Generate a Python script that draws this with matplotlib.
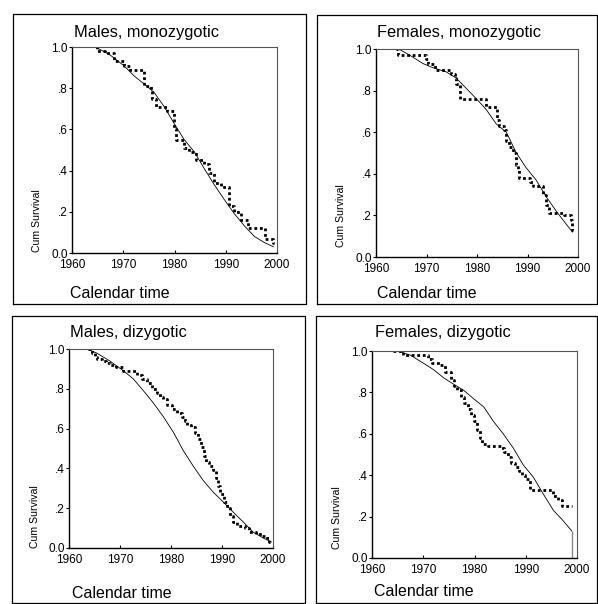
import numpy as np
import matplotlib
matplotlib.use("Agg")
import matplotlib.pyplot as plt
from matplotlib.lines import Line2D

plt.rcParams['font.family'] = ['Liberation Sans', 'DejaVu Sans']

W, H = 598, 604

titles = ["Males, monozygotic", "Females, monozygotic", "Males, dizygotic", "Females, dizygotic"]
x_ticks = [1960, 1970, 1980, 1990, 2000]
x_tick_labels = ["1960", "1970", "1980", "1990", "2000"]
y_ticks = [0.0, 0.2, 0.4, 0.6, 0.8, 1.0]
y_tick_labels = ["0.0", ".2", ".4", ".6", ".8", "1.0"]

# smooth (model) curves
m_mz_fit_t = [1964.0, 1964.6, 1967.5, 1970.1, 1972.1, 1974.1, 1976.0, 1978.0, 1979.9, 1981.9,
              1983.9, 1985.8, 1987.8, 1989.7, 1991.7, 1993.7, 1995.6, 1997.6, 1999.3]
m_mz_fit_s = [1.0, 1.0, 0.96, 0.91, 0.86, 0.82, 0.78, 0.71, 0.63, 0.55,
              0.49, 0.41, 0.33, 0.26, 0.19, 0.13, 0.08, 0.05, 0.03]
f_mz_fit_t = [1964.5, 1966.7, 1969.3, 1971.3, 1973.9, 1975.9, 1977.9, 1979.9, 1981.8,
              1983.8, 1985.8, 1987.8, 1989.7, 1991.7, 1993.7, 1995.7, 1997.6, 1998.9]
f_mz_fit_s = [1.0, 0.97, 0.93, 0.91, 0.89, 0.86, 0.81, 0.76, 0.71,
              0.64, 0.60, 0.50, 0.43, 0.37, 0.29, 0.22, 0.16, 0.12]
m_dz_fit_t = [1963.5, 1965.4, 1968.0, 1970.7, 1972.6, 1974.6, 1976.5, 1978.5, 1980.5, 1982.4,
              1984.4, 1986.3, 1988.3, 1990.3, 1992.2, 1994.2, 1996.1, 1998.1, 1999.7]
m_dz_fit_s = [1.0, 0.98, 0.94, 0.89, 0.85, 0.79, 0.73, 0.66, 0.58, 0.49,
              0.41, 0.34, 0.28, 0.23, 0.18, 0.13, 0.08, 0.05, 0.03]
f_dz_fit_t = [1964.9, 1967.5, 1970.1, 1972.0, 1974.0, 1975.9, 1977.9, 1979.8, 1981.8,
              1983.7, 1985.6, 1987.6, 1989.5, 1991.5, 1993.4, 1995.4, 1997.3, 1999.0]
f_dz_fit_s = [1.0, 0.98, 0.94, 0.91, 0.87, 0.84, 0.81, 0.77, 0.73,
              0.66, 0.60, 0.53, 0.45, 0.39, 0.31, 0.23, 0.18, 0.13]

# Kaplan-Meier steps (value holds from each time until the next)
m_mz_km_t = [1964.6, 1964.9, 1966.5, 1968.2, 1970.1, 1971.4, 1974.1, 1975.4, 1975.7, 1976.3,
             1978.6, 1979.9, 1980.3, 1981.9, 1982.9, 1984.2, 1985.8, 1986.8, 1987.8, 1989.1,
             1990.7, 1991.7, 1993.0, 1994.3, 1997.6, 1999.2, 1999.4]
m_mz_km_s = [1.0, 0.98, 0.97, 0.93, 0.91, 0.89, 0.81, 0.79, 0.75, 0.71,
             0.69, 0.60, 0.55, 0.51, 0.49, 0.45, 0.43, 0.39, 0.34, 0.32,
             0.23, 0.20, 0.16, 0.12, 0.07, 0.05, 0.05]
f_mz_km_t = [1964.0, 1964.3, 1969.9, 1970.3, 1971.6, 1974.9, 1975.6, 1975.9, 1976.6, 1981.8,
             1984.0, 1984.4, 1985.4, 1985.8, 1986.4, 1987.1, 1987.8, 1988.1, 1988.4, 1990.4,
             1991.1, 1993.0, 1993.7, 1994.3, 1997.3, 1998.6, 1998.9, 1999.1]
f_mz_km_s = [1.0, 0.97, 0.95, 0.93, 0.90, 0.88, 0.86, 0.83, 0.76, 0.72,
             0.66, 0.63, 0.61, 0.56, 0.53, 0.50, 0.44, 0.42, 0.38, 0.36,
             0.34, 0.30, 0.25, 0.21, 0.20, 0.18, 0.13, 0.13]
m_dz_km_t = [1963.8, 1964.5, 1965.0, 1965.5, 1966.5, 1967.3, 1968.0, 1969.3, 1970.5, 1973.4,
             1974.3, 1975.3, 1976.2, 1977.3, 1977.8, 1978.4, 1979.3, 1980.1, 1981.1, 1982.1,
             1982.8, 1983.2, 1984.0, 1984.7, 1985.3, 1985.8, 1986.4, 1986.8, 1987.4, 1988.3,
             1988.9, 1989.3, 1989.7, 1990.3, 1991.0, 1991.6, 1992.2, 1992.9, 1994.6, 1995.3,
             1996.7, 1997.9, 1998.8, 1999.3, 1999.6]
m_dz_km_s = [1.0, 0.98, 0.96, 0.95, 0.94, 0.93, 0.92, 0.91, 0.89, 0.87,
             0.85, 0.83, 0.80, 0.78, 0.76, 0.75, 0.72, 0.70, 0.68, 0.66,
             0.64, 0.62, 0.61, 0.58, 0.55, 0.51, 0.46, 0.43, 0.41, 0.39,
             0.35, 0.31, 0.27, 0.23, 0.20, 0.16, 0.13, 0.11, 0.10, 0.08,
             0.07, 0.06, 0.05, 0.03, 0.03]
f_dz_km_t = [1964.0, 1966.0, 1971.0, 1971.7, 1973.3, 1974.2, 1975.4, 1976.0, 1976.6, 1977.3,
             1978.0, 1978.8, 1979.4, 1979.9, 1980.5, 1981.0, 1981.5, 1982.6, 1985.2, 1985.8,
             1986.5, 1987.2, 1987.9, 1988.6, 1989.3, 1989.8, 1990.9, 1995.4, 1996.3, 1997.0,
             1999.0]
f_dz_km_s = [1.0, 0.98, 0.96, 0.94, 0.93, 0.90, 0.86, 0.83, 0.81, 0.78,
             0.75, 0.72, 0.69, 0.66, 0.62, 0.58, 0.55, 0.54, 0.53, 0.51,
             0.49, 0.46, 0.44, 0.42, 0.40, 0.38, 0.33, 0.30, 0.28, 0.25,
             0.25]

fits = [(m_mz_fit_t, m_mz_fit_s), (f_mz_fit_t, f_mz_fit_s),
        (m_dz_fit_t, m_dz_fit_s), (f_dz_fit_t, f_dz_fit_s)]
kms = [(m_mz_km_t, m_mz_km_s), (f_mz_km_t, f_mz_km_s),
       (m_dz_km_t, m_dz_km_s), (f_dz_km_t, f_dz_km_s)]

# layout in pixels: axes (left, top, right, bottom), title x/y, xlabel x/y, ylabel x/y
axes_px = [(72, 47, 277, 253), (376, 49, 578, 257), (69, 349, 273, 548), (372, 351, 577, 558)]
title_px = [(74, 33), (377, 33), (70, 333), (375, 333)]
xlab_px = [(70, 293), (377, 293), (72, 593), (374, 591)]
ylab_px = [(37, 221), (341, 216), (35, 517), (337, 518)]
boxes_px = [(13, 14, 306, 304), (317, 15, 597, 304), (12, 316, 305, 603), (316, 316, 597, 603)]


def fx(x):
    return x / W


def fy(y):
    return 1 - y / H


fig = plt.figure(figsize=(W / 100, H / 100), dpi=100)

for (x0, y0, x1, y1) in boxes_px:
    xs = [fx(x0), fx(x0), fx(x1), fx(x1), fx(x0)]
    ys = [fy(y1), fy(y0), fy(y0), fy(y1), fy(y1)]
    fig.add_artist(Line2D(xs, ys, color='black', lw=0.9))

for i in range(4):
    l, t, r, b = axes_px[i]
    ax = fig.add_axes([fx(l), fy(b), (r - l) / W, (b - t) / H])
    ft, fs = fits[i]
    kt, ks = kms[i]
    ax.plot(ft, fs, color='black', lw=0.6)
    ax.step(kt, ks, where='post', color='black', lw=2.0, linestyle=(0, (1, 1)))
    if i == 3:
        ax.vlines(ft[-1], 0, fs[-1], color='#888888', lw=1.0)
    ax.set_xlim(1960, 2000)
    ax.set_ylim(0, 1)
    ax.set_xticks(x_ticks)
    ax.set_xticklabels(x_tick_labels)
    ax.set_yticks(y_ticks)
    ax.set_yticklabels(y_tick_labels)
    ax.tick_params(axis='x', direction='in', length=2.5, width=0.8, labelsize=8.5, pad=4)
    ax.tick_params(axis='y', direction='out', length=2, width=0.8, labelsize=8.5, pad=1)
    ax.spines['left'].set_linewidth(1.0)
    ax.spines['bottom'].set_linewidth(1.0)
    ax.spines['top'].set_color('#555555')
    ax.spines['right'].set_color('#555555')
    ax.spines['top'].set_linewidth(0.8)
    ax.spines['right'].set_linewidth(0.8)

    fig.text(fx(title_px[i][0]), fy(title_px[i][1]), titles[i], fontsize=11.8,
             ha='left', va='center')
    fig.text(fx(xlab_px[i][0]), fy(xlab_px[i][1]), "Calendar time", fontsize=11.5,
             ha='left', va='center')
    fig.text(fx(ylab_px[i][0]), fy(ylab_px[i][1]), "Cum Survival", fontsize=7.6,
             ha='center', va='center', rotation=90)

fig.savefig("out.png", dpi=100)
